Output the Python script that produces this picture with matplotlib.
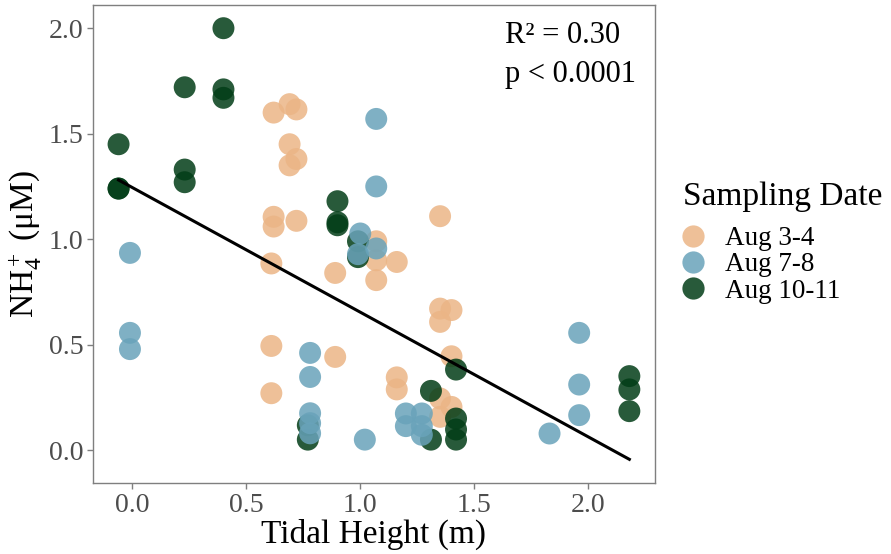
"""NH4+ vs tidal height scatter with linear fit, coloured by sampling date."""

import matplotlib
matplotlib.use("Agg")
import matplotlib.pyplot as plt
from matplotlib.lines import Line2D
import numpy as np

plt.rcParams["font.family"] = ["Liberation Serif", "DejaVu Serif"]
plt.rcParams["mathtext.fontset"] = "custom"
plt.rcParams["mathtext.rm"] = "Liberation Serif"
plt.rcParams["mathtext.it"] = "Liberation Serif:italic"

# Aug 3-4
aug34_x = [0.62, 0.69, 0.72, 0.69, 0.72, 0.69, 0.62, 0.62, 0.72, 0.61, 0.61, 0.61,
           0.89, 0.89, 1.07, 1.07, 1.07, 1.16, 1.35, 1.35, 1.40, 1.35, 1.40, 1.16,
           1.16, 1.35, 1.40, 1.35]
aug34_y = [1.60, 1.64, 1.615, 1.45, 1.38, 1.35, 1.106, 1.06, 1.087, 0.885, 0.494, 0.27,
           0.84, 0.442, 0.99, 0.90, 0.806, 0.892, 1.109, 0.671, 0.664, 0.608, 0.445, 0.345,
           0.288, 0.245, 0.205, 0.158]

# Aug 7-8
aug78_x = [-0.01, -0.01, -0.01, 0.78, 0.78, 0.78, 0.78, 0.78, 1.00, 0.99, 1.07, 1.07,
           1.07, 1.02, 1.20, 1.27, 1.20, 1.27, 1.27, 1.83, 1.96, 1.96, 1.96]
aug78_y = [0.935, 0.556, 0.479, 0.461, 0.347, 0.175, 0.128, 0.08, 1.027, 0.929, 0.956, 1.57,
           1.25, 0.05, 0.174, 0.174, 0.114, 0.114, 0.073, 0.079, 0.556, 0.311, 0.166]

# Aug 10-11
aug1011_x = [0.40, 0.23, 0.40, 0.40, -0.06, -0.06, -0.06, 0.23, 0.23, 0.90, 0.90, 0.90,
             0.99, 0.99, 0.77, 0.77, 1.31, 1.31, 1.42, 1.42, 1.42, 1.42, 2.18, 2.18, 2.18]
aug1011_y = [2.00, 1.72, 1.71, 1.67, 1.45, 1.24, 1.24, 1.33, 1.27, 1.18, 1.08, 1.066,
             0.99, 0.915, 0.118, 0.05, 0.281, 0.05, 0.382, 0.15, 0.098, 0.05, 0.351, 0.288, 0.185]

# linear fit reported on the chart
fit_intercept = 1.245
fit_slope = -0.591
fit_xrange = (-0.06, 2.18)

groups = ["Aug 3-4", "Aug 7-8", "Aug 10-11"]
colors = {"Aug 3-4": "#ebb586", "Aug 7-8": "#69a3ba", "Aug 10-11": "#023d17"}

fig = plt.figure(figsize=(8.91, 5.54), dpi=100)
ax = fig.add_axes([0.1044, 0.128, 0.6306, 0.863])

pts = {"Aug 3-4": (aug34_x, aug34_y), "Aug 7-8": (aug78_x, aug78_y),
       "Aug 10-11": (aug1011_x, aug1011_y)}
# draw order seen in the reference: orange, green, blue
for z, g in zip([2, 3, 4], ["Aug 3-4", "Aug 10-11", "Aug 7-8"]):
    x, y = pts[g]
    ax.scatter(x, y, s=250, color=colors[g], alpha=0.85, edgecolors="none", zorder=z)

fx = np.array(fit_xrange)
ax.plot(fx, fit_intercept + fit_slope * fx, color="black", lw=2.2, zorder=5)

ax.set_xlim(-0.172, 2.292)
ax.set_ylim(-0.156, 2.11)
ax.set_xticks([0.0, 0.5, 1.0, 1.5, 2.0])
ax.set_yticks([0.0, 0.5, 1.0, 1.5, 2.0])
ax.set_xticklabels(["0.0", "0.5", "1.0", "1.5", "2.0"])
ax.set_yticklabels(["0.0", "0.5", "1.0", "1.5", "2.0"])
ax.tick_params(colors="#7f7f7f", labelcolor="#4d4d4d", labelsize=20, length=4, width=1,
               pad=3)
for sp in ax.spines.values():
    sp.set_color("#7f7f7f")
    sp.set_linewidth(1)

ax.set_xlabel("Tidal Height (m)", fontsize=24, labelpad=1)
ax.set_ylabel(r"NH$_4^+$ (μM)", fontsize=24)
ax.yaxis.set_label_coords(-0.088, 0.5)

ax.text(0.733, 0.937, "R² = 0.30", transform=ax.transAxes, fontsize=22,
        ha="left", va="center")
ax.text(0.733, 0.854, "p < 0.0001", transform=ax.transAxes, fontsize=22,
        ha="left", va="center")

# legend: title as its own text, entries below it
fig.text(0.7666, 0.6444, "Sampling Date", fontsize=24, ha="left", va="center")
handles = [Line2D([], [], marker="o", ls="", ms=16, color=colors[g], alpha=0.85,
                  markeredgewidth=0) for g in groups]
fig.legend(handles, groups, loc="upper left", bbox_to_anchor=(0.760, 0.592),
           frameon=False, fontsize=19.5, handletextpad=0.57, handlelength=1.2,
           labelspacing=0.05, borderaxespad=0, borderpad=0)

fig.savefig("out.png", dpi=100)
